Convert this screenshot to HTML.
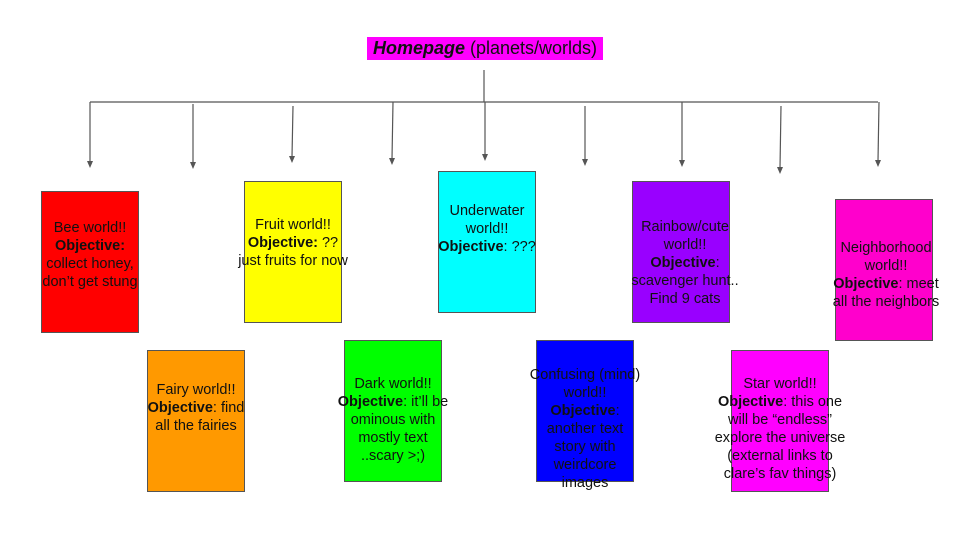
<!DOCTYPE html>
<html><head><meta charset="utf-8"><style>
body{margin:0;width:960px;height:540px;background:#fff;position:relative;overflow:hidden;font-family:"Liberation Sans",Arial,sans-serif;}
.b{position:absolute;width:96px;height:140px;border:1px solid #555;box-sizing:content-box;}
.t{position:absolute;width:140px;text-align:center;font-size:14.5px;line-height:18px;color:#111;}
b{font-weight:bold;}
</style></head><body>
<div style="position:absolute;left:367px;top:37px;width:236px;height:23px;background:#ff00ff;"></div>
<div style="position:absolute;left:367px;top:37px;width:236px;height:23px;line-height:23px;text-align:center;font-size:18px;color:#111;"><b><i>Homepage</i></b> (planets/worlds)</div>
<svg style="position:absolute;left:0;top:0" width="960" height="540">
<g stroke="#555" stroke-width="1.2" fill="none">
<line x1="484" y1="70" x2="484" y2="102"/>
<line x1="90" y1="102" x2="878" y2="102"/>
<line x1="90" y1="102" x2="90" y2="162"/>
<line x1="193" y1="104" x2="193" y2="163"/>
<line x1="293" y1="106" x2="292" y2="157"/>
<line x1="393" y1="102" x2="392" y2="159"/>
<line x1="485" y1="102" x2="485" y2="155"/>
<line x1="585" y1="106" x2="585" y2="160"/>
<line x1="682" y1="102" x2="682" y2="161"/>
<line x1="781" y1="106" x2="780" y2="168"/>
<line x1="879" y1="102" x2="878" y2="161"/>
</g>
<g fill="#555">
<path d="M87,161 L93,161 L90,168 Z"/>
<path d="M190,162 L196,162 L193,169 Z"/>
<path d="M289,156 L295,156 L292,163 Z"/>
<path d="M389,158 L395,158 L392,165 Z"/>
<path d="M482,154 L488,154 L485,161 Z"/>
<path d="M582,159 L588,159 L585,166 Z"/>
<path d="M679,160 L685,160 L682,167 Z"/>
<path d="M777,167 L783,167 L780,174 Z"/>
<path d="M875,160 L881,160 L878,167 Z"/>
</g></svg>
<div class="b" style="left:41px;top:191px;background:#ff0000"></div>
<div class="b" style="left:244px;top:181px;background:#ffff00"></div>
<div class="b" style="left:147px;top:350px;background:#ff9900"></div>
<div class="b" style="left:344px;top:340px;background:#00ff00"></div>
<div class="b" style="left:438px;top:171px;background:#00ffff"></div>
<div class="b" style="left:632px;top:181px;background:#9900ff"></div>
<div class="b" style="left:835px;top:199px;background:#ff00cc"></div>
<div class="b" style="left:536px;top:340px;background:#0000ff"></div>
<div class="b" style="left:731px;top:350px;background:#ff00ff"></div>
<div class="t" style="left:20px;top:219px">Bee world!!<br><b>Objective:</b><br>collect honey,<br>don’t get stung</div>
<div class="t" style="left:223px;top:216px">Fruit world!!<br><b>Objective:</b> ??<br>just fruits for now</div>
<div class="t" style="left:126px;top:381px">Fairy world!!<br><b>Objective</b>: find<br>all the fairies</div>
<div class="t" style="left:323px;top:375px">Dark world!!<br><b>Objective</b>: it’ll be<br>ominous with<br>mostly text<br>..scary &gt;;)</div>
<div class="t" style="left:417px;top:202px">Underwater<br>world!!<br><b>Objective</b>: ???</div>
<div class="t" style="left:615px;top:218px">Rainbow/cute<br>world!!<br><b>Objective</b>:<br>scavenger hunt..<br>Find 9 cats</div>
<div class="t" style="left:816px;top:239px">Neighborhood<br>world!!<br><b>Objective</b>: meet<br>all the neighbors</div>
<div class="t" style="left:515px;top:366px">Confusing (mind)<br>world!!<br><b>Objective</b>:<br>another text<br>story with<br>weirdcore<br>images</div>
<div class="t" style="left:710px;top:375px">Star world!!<br><b>Objective</b>: this one<br>will be “endless”<br>explore the universe<br>(external links to<br>clare’s fav things)</div>
</body></html>
